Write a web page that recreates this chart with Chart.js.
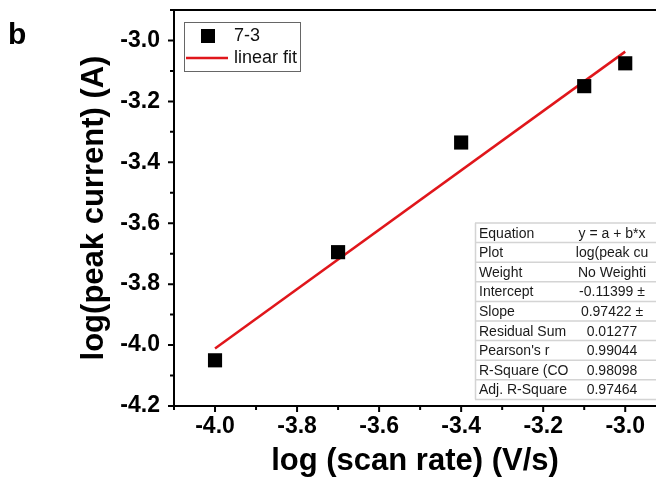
<!DOCTYPE html>
<html>
<head>
<meta charset="utf-8">
<script src="https://cdn.jsdelivr.net/npm/chart.js@4.4.1/dist/chart.umd.min.js"></script>
<style>
  html, body { margin: 0; padding: 0; background: #fff; overflow: hidden; }
  #wrap { width: 656px; height: 488px; position: relative; }
</style>
</head>
<body>
<div id="wrap"><canvas id="chart"></canvas></div>
<script>
// measured points
const scanRate = [-4.0, -3.7, -3.4, -3.1, -3.0];
const peakCurrent = [-4.05, -3.695, -3.335, -3.15, -3.075];

// linear fit y = a + b*x
const intercept = -0.11399;
const slope = 0.97422;
const fitX = [-4.0, -3.0];

const xTicks = [-4.0, -3.8, -3.6, -3.4, -3.2, -3.0];
const yTicks = [-4.2, -4.0, -3.8, -3.6, -3.4, -3.2, -3.0];

const tableLabels = ['Equation', 'Plot', 'Weight', 'Intercept', 'Slope', 'Residual Sum', "Pearson's r", 'R-Square (CO', 'Adj. R-Square'];
const tableValues = ['y = a + b*x', 'log(peak cu', 'No Weighti', '-0.11399 \u00b1', '0.97422 \u00b1', '0.01277', '0.99044', '0.98098', '0.97464'];

const FONT = '"Liberation Sans", Arial, sans-serif';

// keep the plot area exactly where the layout puts it
function noLabelPadding(s) {
    s.paddingLeft = 0;
    s.paddingRight = 0;
    s.paddingTop = 0;
    s.paddingBottom = 0;
}

// axes frame, tick marks, legend, fit table and panel letter
const decorations = {
    id: 'decorations',
    afterDraw(c) {
        const ctx = c.ctx;
        const a = c.chartArea;
        const xs = c.scales.x, ys = c.scales.y;
        ctx.save();
        ctx.strokeStyle = '#000';
        ctx.lineWidth = 2;
        ctx.beginPath();
        ctx.moveTo(a.left, a.top);
        ctx.lineTo(a.left, a.bottom);
        ctx.lineTo(a.right, a.bottom);
        ctx.moveTo(a.left, a.top);
        ctx.lineTo(a.right, a.top);
        ctx.stroke();

        ctx.beginPath();
        for (let v = -4.1; v <= -2.9; v += 0.1) {
            const major = Math.abs(Math.round(v * 10) % 2) === 0;
            const len = major ? 6 : 4;
            const px = xs.getPixelForValue(v);
            if (px >= a.left - 1 && px <= a.right) {
                ctx.moveTo(px, a.bottom);
                ctx.lineTo(px, a.bottom + len);
            }
        }
        for (let v = -4.2; v <= -2.9; v += 0.1) {
            const major = Math.abs(Math.round(v * 10) % 2) === 0;
            const len = major ? 6 : 4;
            const py = ys.getPixelForValue(v);
            if (py >= a.top && py <= a.bottom + 1) {
                ctx.moveTo(a.left, py);
                ctx.lineTo(a.left - len, py);
            }
        }
        ctx.stroke();

        // legend
        ctx.lineWidth = 1;
        ctx.strokeStyle = '#666';
        ctx.fillStyle = '#fff';
        ctx.fillRect(184.5, 22.5, 116, 49);
        ctx.strokeRect(184.5, 22.5, 116, 49);
        ctx.fillStyle = '#000';
        ctx.fillRect(201, 29, 14, 14);
        ctx.strokeStyle = '#e0161b';
        ctx.lineWidth = 2.5;
        ctx.beginPath();
        ctx.moveTo(186, 58);
        ctx.lineTo(228, 58);
        ctx.stroke();
        ctx.fillStyle = '#111';
        ctx.font = '18px ' + FONT;
        ctx.textBaseline = 'middle';
        ctx.fillText(c.data.datasets[0].label, 234, 36);
        ctx.fillText(c.data.datasets[1].label, 234, 58);

        // fit results table
        const tx = 475, ty = 223, rh = 19.6;
        ctx.fillStyle = '#fff';
        ctx.fillRect(tx, ty, 656 - tx, rh * tableLabels.length);
        ctx.strokeStyle = '#d4d4d4';
        ctx.lineWidth = 1.5;
        ctx.beginPath();
        for (let i = 0; i <= tableLabels.length; i++) {
            ctx.moveTo(tx, ty + i * rh);
            ctx.lineTo(656, ty + i * rh);
        }
        ctx.moveTo(tx + 0.5, ty);
        ctx.lineTo(tx + 0.5, ty + rh * tableLabels.length);
        ctx.stroke();
        ctx.font = '14px ' + FONT;
        ctx.fillStyle = '#1a1a1a';
        tableLabels.forEach((t, i) => {
            const cy = ty + i * rh + rh / 2 + 1;
            ctx.textAlign = 'left';
            ctx.fillText(t, tx + 4, cy);
            ctx.textAlign = 'center';
            ctx.fillText(tableValues[i], 612, cy);
        });

        ctx.textAlign = 'left';
        ctx.textBaseline = 'alphabetic';
        ctx.fillStyle = '#000';
        ctx.font = 'bold 30px ' + FONT;
        ctx.fillText('b', 8, 44);
        ctx.restore();
    }
};

const chart = document.querySelector('#chart').getContext('2d');

new Chart(chart, {
    type: 'scatter',
    data: {
        datasets: [
            {
                label: '7-3',
                data: scanRate.map((x, i) => ({ x: x, y: peakCurrent[i] })),
                pointStyle: 'rect',
                pointRadius: 10,
                pointHoverRadius: 10,
                backgroundColor: '#000',
                borderColor: '#000',
                borderWidth: 0,
                order: 1
            },
            {
                label: 'linear fit',
                type: 'line',
                data: fitX.map(x => ({ x: x, y: intercept + slope * x })),
                borderColor: '#e0161b',
                borderWidth: 2.5,
                pointRadius: 0,
                fill: false,
                order: 2
            }
        ]
    },
    options: {
        responsive: true,
        maintainAspectRatio: false,
        animation: false,
        devicePixelRatio: 1,
        layout: { autoPadding: false, padding: { top: 10, left: 0, right: 0, bottom: 0 } },
        plugins: { legend: { display: false }, tooltip: { enabled: false } },
        scales: {
            x: {
                type: 'linear',
                min: -4.1,
                max: -2.925,
                afterBuildTicks: s => { s.ticks = xTicks.map(v => ({ value: v })); },
                afterFit: s => { s.height = 82; noLabelPadding(s); },
                grid: { display: false, drawTicks: false },
                border: { display: false },
                ticks: {
                    autoSkip: false,
                    maxRotation: 0,
                    padding: 7,
                    color: '#000',
                    font: { family: FONT, size: 23, weight: 'bold' },
                    callback: v => v.toFixed(1)
                },
                title: {
                    display: true,
                    text: 'log (scan rate) (V/s)',
                    color: '#000',
                    font: { family: FONT, size: 31, weight: 'bold' },
                    padding: { top: 0, bottom: 8 }
                }
            },
            y: {
                min: -4.2,
                max: -2.9,
                afterBuildTicks: s => { s.ticks = yTicks.map(v => ({ value: v })); },
                afterFit: s => { s.width = 174; noLabelPadding(s); },
                grid: { display: false, drawTicks: false },
                border: { display: false },
                ticks: {
                    autoSkip: false,
                    padding: 14,
                    color: '#000',
                    font: { family: FONT, size: 23, weight: 'bold' },
                    callback: v => v.toFixed(1)
                },
                title: {
                    display: true,
                    text: 'log(peak current) (A)',
                    color: '#000',
                    font: { family: FONT, size: 31, weight: 'bold' },
                    padding: { top: 76, bottom: 0 }
                }
            }
        }
    },
    plugins: [decorations]
});
</script>
</body>
</html>
